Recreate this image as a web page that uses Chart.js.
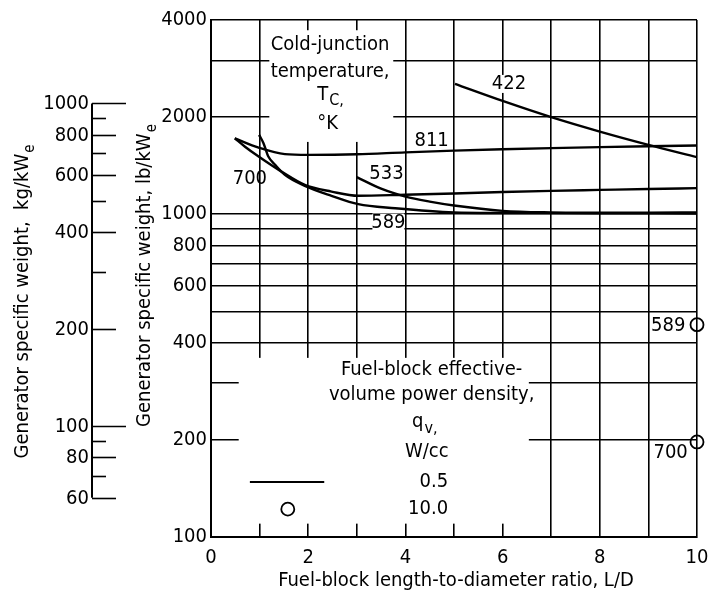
<!DOCTYPE html>
<html>
<head>
<meta charset="utf-8">
<script src="https://cdn.jsdelivr.net/npm/chart.js@4.4.1/dist/chart.umd.min.js"></script>
<style>
  html, body { margin: 0; padding: 0; background: #fff; }
</style>
</head>
<body>
<canvas id="grafico" width="709" height="590"></canvas>
<script>
const FUENTE = '"Liberation Sans Narrow", "DejaVu Sans Condensed", "Arial Narrow", sans-serif';
const LB_POR_KG = 2.20462;

// Curvas por temperatura de unión fría, q_v = 0.5 W/cc  [L/D, lb/kWe]
const curva422 = [[5.02, 2535], [6, 2245], [7, 2000], [8, 1804], [9, 1641], [10, 1503]];
const curva811 = [[0.49, 1720], [0.98, 1609], [1.52, 1536], [2, 1528], [3, 1534], [4, 1556], [5, 1575], [6, 1590], [7, 1603], [8, 1615], [9, 1625], [10, 1633]];
const curva700 = [[0.49, 1720], [0.7, 1620], [0.98, 1510], [1.45, 1356], [1.93, 1233], [2.48, 1176], [3.03, 1141], [4, 1150], [5, 1160], [6, 1172], [7, 1182], [8, 1190], [9, 1198], [10, 1205]];
const curva589 = [[0.99, 1762], [1.08, 1661], [1.18, 1510], [1.32, 1423], [1.52, 1325], [1.93, 1225], [2.48, 1141], [3.03, 1075], [3.79, 1044], [5, 1013], [6, 1009], [7, 1008], [8, 1007], [10, 1006]];
const curva533 = [[3, 1303], [3.5, 1200], [4, 1135], [4.5, 1095], [5, 1065], [6, 1025], [7, 1014], [8, 1012], [9, 1012], [10, 1013]];
// q_v = 10 W/cc (589 y 700 K)
const puntos10 = [[10, 455], [10, 197]];

// Ticks
const xTicks = [0, 1, 2, 3, 4, 5, 6, 7, 8, 9, 10];
const xEtiquetas = [0, 2, 4, 6, 8, 10];
const yTicks = [100, 200, 300, 400, 500, 600, 700, 800, 900, 1000, 2000, 3000, 4000];
const yEtiquetas = [100, 200, 400, 600, 800, 1000, 2000, 4000];
const kgTicks = [60, 70, 80, 90, 100, 200, 300, 400, 500, 600, 700, 800, 900, 1000];
const kgEtiquetas = [60, 80, 100, 200, 400, 600, 800, 1000];

const linea = pts => ({
  data: pts.map(([x, y]) => ({ x, y })),
  borderColor: '#000',
  borderWidth: 2.4,
  pointRadius: 0,
  fill: false,
  cubicInterpolationMode: 'monotone'
});

function texto(ctx, t, x, y, align, size) {
  ctx.font = `${size || 20}px ${FUENTE}`;
  ctx.textAlign = align || 'center';
  ctx.textBaseline = 'middle';
  ctx.fillText(t, x, y);
}

// texto con subíndice, centrado en x
function textoSub(ctx, t, sub, x, y, bajada) {
  ctx.font = `20px ${FUENTE}`;
  const w1 = ctx.measureText(t).width;
  ctx.font = `16px ${FUENTE}`;
  const w2 = ctx.measureText(sub).width;
  const x0 = x - (w1 + w2) / 2;
  ctx.textAlign = 'left';
  ctx.textBaseline = 'middle';
  ctx.font = `20px ${FUENTE}`;
  ctx.fillText(t, x0, y);
  ctx.font = `16px ${FUENTE}`;
  ctx.fillText(sub, x0 + w1 + 1, y + bajada);
}

function tituloVertical(ctx, t, sub, xBase, yCentro) {
  ctx.save();
  ctx.font = `20px ${FUENTE}`;
  const w1 = ctx.measureText(t).width;
  ctx.font = `15px ${FUENTE}`;
  const w2 = ctx.measureText(sub).width;
  ctx.translate(xBase, yCentro);
  ctx.rotate(-Math.PI / 2);
  ctx.textAlign = 'left';
  ctx.textBaseline = 'alphabetic';
  const x0 = -(w1 + w2) / 2;
  ctx.font = `20px ${FUENTE}`;
  ctx.fillText(t, x0, 0);
  ctx.font = `15px ${FUENTE}`;
  ctx.fillText(sub, x0 + w1 + 1, 6);
  ctx.restore();
}

const dibujo = {
  id: 'dibujo',
  beforeDatasetsDraw(chart) {
    const { ctx, scales: { x, y } } = chart;
    ctx.save();
    ctx.fillStyle = '#fff';
    // recuadros de texto que tapan la cuadrícula
    const cajas = [[1.2, 3.75, 3718, 1676], [0.57, 6.54, 359, 110]];
    for (const [a, b, v0, v1] of cajas) {
      const px0 = x.getPixelForValue(a), px1 = x.getPixelForValue(b);
      const py0 = y.getPixelForValue(v0), py1 = y.getPixelForValue(v1);
      ctx.fillRect(px0, py0, px1 - px0, py1 - py0);
    }
    // fondo blanco de algunas etiquetas
    for (const [l, v, w] of [[6.13, 2535, 32], [3.65, 943, 32]]) {
      const px = x.getPixelForValue(l), py = y.getPixelForValue(v);
      ctx.fillRect(px - w / 2, py - 9, w, 18);
    }
    ctx.restore();
  },
  afterDatasetsDraw(chart) {
    const { ctx, scales: { x, y } } = chart;
    const X = v => x.getPixelForValue(v), Y = v => y.getPixelForValue(v);
    ctx.save();
    ctx.fillStyle = '#000';
    ctx.strokeStyle = '#000';

    texto(ctx, 'Cold-junction', X(2.45), Y(3347));
    texto(ctx, 'temperature,', X(2.45), Y(2760));
    textoSub(ctx, 'T', 'C,', X(2.45), Y(2342), 6);
    texto(ctx, '°K', X(2.4), Y(1905));

    texto(ctx, '422', X(6.13), Y(2535));
    texto(ctx, '811', X(4.54), Y(1686));
    texto(ctx, '533', X(3.61), Y(1337));
    texto(ctx, '589', X(3.65), Y(943));
    texto(ctx, '700', X(0.8), Y(1290));
    texto(ctx, '589', X(9.76), Y(452), 'right');
    texto(ctx, '700', X(9.81), Y(183), 'right');

    texto(ctx, 'Fuel-block effective-', X(4.54), Y(329));
    texto(ctx, 'volume power density,', X(4.54), Y(275));
    textoSub(ctx, 'q', 'v,', X(4.39), Y(228), 7);
    texto(ctx, 'W/cc', X(4.44), Y(184));
    texto(ctx, '0.5', X(4.88), Y(148), 'right');
    texto(ctx, '10.0', X(4.88), Y(122), 'right');

    // muestras de leyenda
    ctx.lineWidth = 2;
    ctx.beginPath();
    ctx.moveTo(X(0.8), Y(148));
    ctx.lineTo(X(2.33), Y(148));
    ctx.stroke();
    ctx.lineWidth = 1.8;
    ctx.beginPath();
    ctx.arc(X(1.58), Y(122), 6.5, 0, Math.PI * 2);
    ctx.stroke();
    ctx.restore();
  },
  afterDraw(chart) {
    const { ctx, scales: { y } } = chart;
    const ejeX = 92;
    const Ykg = kg => y.getPixelForValue(kg * LB_POR_KG);
    ctx.save();
    ctx.strokeStyle = '#000';
    ctx.fillStyle = '#000';
    ctx.lineWidth = 2;
    ctx.beginPath();
    ctx.moveTo(ejeX, Ykg(1000));
    ctx.lineTo(ejeX, Ykg(60));
    ctx.stroke();
    ctx.lineWidth = 1.6;
    for (const kg of kgTicks) {
      const largo = (kg === 100 || kg === 1000) ? 34 : (kgEtiquetas.includes(kg) ? 24 : 14);
      const py = Math.round(Ykg(kg)) + 0.5;
      ctx.beginPath();
      ctx.moveTo(ejeX, py);
      ctx.lineTo(ejeX + largo, py);
      ctx.stroke();
      if (kgEtiquetas.includes(kg)) texto(ctx, String(kg), ejeX - 3, py, 'right');
    }
    tituloVertical(ctx, 'Generator specific weight,  kg/kW', 'e', 28, 302);
    tituloVertical(ctx, 'Generator specific weight, lb/kW', 'e', 150, 276);

    ctx.font = `20px ${FUENTE}`;
    ctx.textAlign = 'center';
    ctx.textBaseline = 'alphabetic';
    ctx.fillText('Fuel-block length-to-diameter ratio, L/D', 456, 586);
    ctx.restore();
  }
};

new Chart(document.getElementById('grafico').getContext('2d'), {
  type: 'line',
  data: {
    datasets: [
      linea(curva422),
      linea(curva811),
      linea(curva700),
      linea(curva589),
      linea(curva533),
      {
        data: puntos10.map(([x, y]) => ({ x, y })),
        showLine: false,
        pointRadius: 6.5,
        pointBorderWidth: 1.8,
        pointBorderColor: '#000',
        pointBackgroundColor: 'rgba(0,0,0,0)',
        clip: false
      }
    ]
  },
  options: {
    responsive: false,
    devicePixelRatio: 1,
    animation: false,
    layout: { padding: { top: 20, right: 12, left: 0, bottom: 0 } },
    plugins: { legend: { display: false }, tooltip: { enabled: false } },
    scales: {
      x: {
        type: 'linear',
        min: 0,
        max: 10,
        afterBuildTicks: s => { s.ticks = xTicks.map(v => ({ value: v })); },
        afterFit: s => { s.height = 53; s.paddingRight = 0; s.paddingLeft = 0; },
        ticks: {
          autoSkip: false,
          maxRotation: 0,
          padding: 9,
          color: '#000',
          font: { family: FUENTE, size: 20 },
          callback: v => xEtiquetas.includes(v) ? String(v) : ''
        },
        grid: { color: '#000', lineWidth: 1.6, drawTicks: false },
        border: { color: '#000', width: 2 }
      },
      y: {
        type: 'logarithmic',
        min: 100,
        max: 4000,
        afterBuildTicks: s => { s.ticks = yTicks.map(v => ({ value: v })); },
        afterFit: s => { s.width = 211; s.paddingTop = 0; s.paddingBottom = 0; },
        ticks: {
          autoSkip: false,
          padding: 4,
          color: '#000',
          font: { family: FUENTE, size: 20 },
          callback: v => yEtiquetas.includes(v) ? String(v) : ''
        },
        grid: { color: '#000', lineWidth: 1.6, drawTicks: false },
        border: { color: '#000', width: 2 }
      }
    }
  },
  plugins: [dibujo]
});
</script>
</body>
</html>
